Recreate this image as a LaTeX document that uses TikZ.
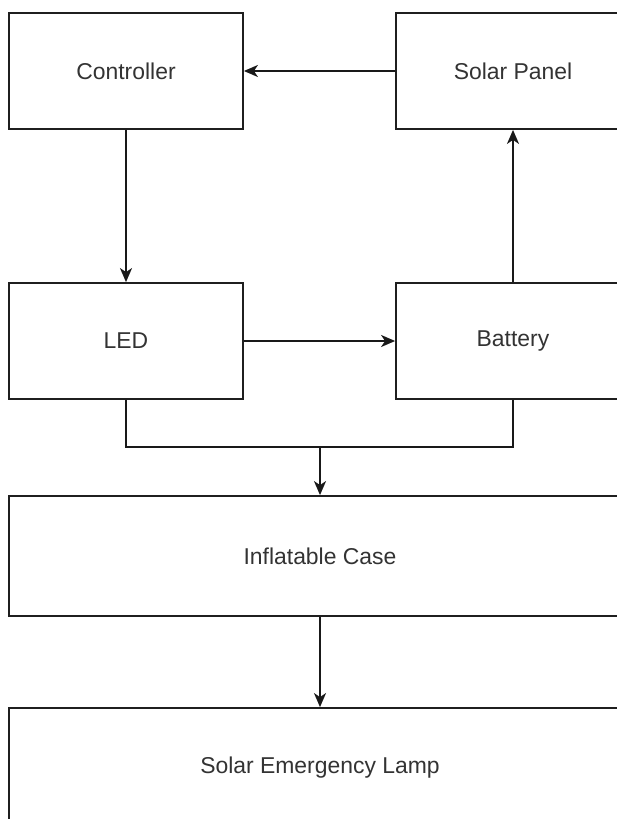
\documentclass[tikz,border=0pt]{standalone}
\usepackage{fontspec}
\setmainfont{Liberation Sans}
\usetikzlibrary{arrows.meta}
\begin{document}
\begin{tikzpicture}[x=1bp,y=-1bp,
  box/.style={draw=black!88, line width=1.8bp, fill=white, minimum width=234bp, minimum height=116bp, inner sep=0pt, font=\fontsize{23}{27}\selectfont, text=black!80},
  wide/.style={box, minimum width=622bp, minimum height=120bp},
  arr/.style={draw=black!90, line width=1.8bp, -{Stealth[length=14bp,width=12bp,inset=4bp]}},
  ln/.style={draw=black!90, line width=1.8bp}]
\clip (0,0) rectangle (617,819);
\fill[white] (0,0) rectangle (617,819);
\node[box] (ctrl) at (126,71) {Controller};
\node[box] (solar) at (513,71) {Solar Panel};
\node[box] (led) at (126,341) {LED};
\node[box] (bat) at (513,341) {Battery};
\node[wide] (case) at (320,556) {Inflatable Case};
\node[wide] (lamp) at (320,768) {Solar Emergency Lamp};
\coordinate (j) at (320,447);
\draw[arr] (solar.west) -- (ctrl.east);
\draw[arr] (ctrl.south) -- (led.north);
\draw[arr] (led.east) -- (bat.west);
\draw[arr] (bat.north) -- (solar.south);
\draw[ln, line join=miter] (led.south) -- (led.south |- j) -- (bat.south |- j) -- (bat.south);
\draw[arr] (j) -- (case.north);
\draw[arr] (case.south) -- (lamp.north);
\end{tikzpicture}
\end{document}
